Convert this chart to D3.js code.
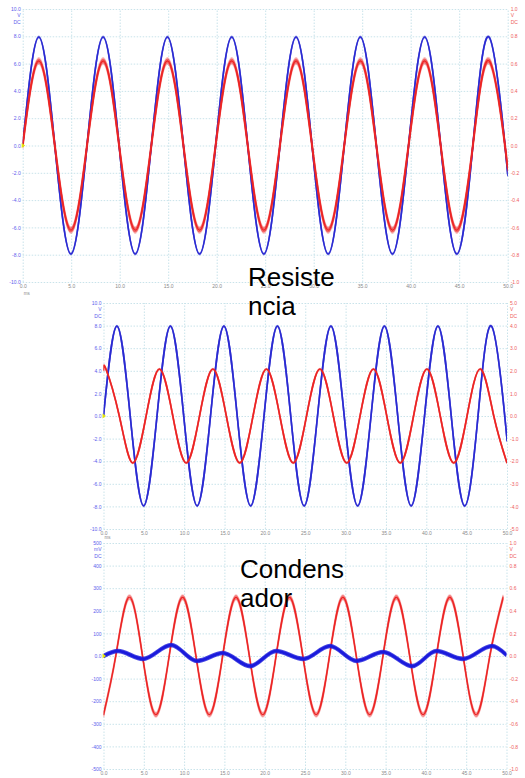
<!DOCTYPE html>
<html>
<head>
<meta charset="utf-8">
<script src="https://cdn.jsdelivr.net/npm/d3@7/dist/d3.min.js"></script>
<style>
  body { margin: 0; background: #fff; }
  svg { display: block; }
  .tick text { font-family: "Liberation Sans", Arial, sans-serif; }
  .caption { font-family: "Liberation Sans", Arial, sans-serif; font-size: 26px; fill: #000; }
</style>
</head>
<body>
<svg id="chart" width="525" height="778"></svg>
<script>
// time axis (ms), shared by the three captures
var timeTicks = [0, 5, 10, 15, 20, 25, 30, 35, 40, 45, 50]
var timeLabels = ['0.0', '5.0', '10.0', '15.0', '20.0', '25.0', '30.0', '35.0', '40.0', '45.0', '50.0']

// channel A / B tick sets
var volt10Ticks = [10, 8, 6, 4, 2, 0, -2, -4, -6, -8, -10]
var volt10Labels = ['10.0', '8.0', '6.0', '4.0', '2.0', '0.0', '-2.0', '-4.0', '-6.0', '-8.0', '-10.0']
var volt1Ticks = [1, 0.8, 0.6, 0.4, 0.2, 0, -0.2, -0.4, -0.6, -0.8, -1]
var volt1Labels = ['1.0', '0.8', '0.6', '0.4', '0.2', '0.0', '-0.2', '-0.4', '-0.6', '-0.8', '-1.0']
var volt5Ticks = [5, 4, 3, 2, 1, 0, -1, -2, -3, -4, -5]
var volt5Labels = ['5.0', '4.0', '3.0', '2.0', '1.0', '0.0', '-1.0', '-2.0', '-3.0', '-4.0', '-5.0']
var mvTicks = [500, 400, 300, 200, 100, 0, -100, -200, -300, -400, -500]
var mvLabels = ['500', '400', '300', '200', '100', '0.0', '-100', '-200', '-300', '-400', '-500']

// blue trace of the first two captures [ms, V] (peaks, troughs, zero crossings)
var sourceVolts = [
  [0, 0], [1.66, 7.95], [3.31, 0], [4.97, -7.95], [6.63, 0], [8.29, 7.95], [9.94, 0], [11.6, -7.95],
  [13.26, 0], [14.92, 7.95], [16.57, 0], [18.23, -7.95], [19.89, 0], [21.55, 7.95], [23.2, 0],
  [24.86, -7.95], [26.52, 0], [28.18, 7.95], [29.83, 0], [31.49, -7.95], [33.15, 0], [34.81, 7.95],
  [36.46, 0], [38.12, -7.95], [39.78, 0], [41.44, 7.95], [43.09, 0], [44.75, -7.95], [46.41, 0],
  [48.07, 7.95], [49.72, 0], [50, -2.1]
]

// red trace, first capture [ms, V]
var redA = [
  [0, 0], [1.66, 0.62], [3.31, 0], [4.97, -0.62], [6.63, 0], [8.29, 0.62], [9.94, 0], [11.6, -0.62],
  [13.26, 0], [14.92, 0.62], [16.57, 0], [18.23, -0.62], [19.89, 0], [21.55, 0.62], [23.2, 0],
  [24.86, -0.62], [26.52, 0], [28.18, 0.62], [29.83, 0], [31.49, -0.62], [33.15, 0], [34.81, 0.62],
  [36.46, 0], [38.12, -0.62], [39.78, 0], [41.44, 0.62], [43.09, 0], [44.75, -0.62], [46.41, 0],
  [48.07, 0.62], [49.72, 0], [50, -0.16]
]

// red trace, resistencia [ms, V]
var redB = [
  [0, 2.0], [0.3, 2.08], [1.96, 0], [3.62, -2.08], [5.28, 0], [6.93, 2.08], [8.59, 0], [10.25, -2.08],
  [11.9, 0], [13.56, 2.08], [15.22, 0], [16.88, -2.08], [18.53, 0], [20.19, 2.08], [21.85, 0],
  [23.51, -2.08], [25.16, 0], [26.82, 2.08], [28.48, 0], [30.14, -2.08], [31.79, 0], [33.45, 2.08],
  [35.1, 0], [36.77, -2.08], [38.42, 0], [40.08, 2.08], [41.73, 0], [43.4, -2.08], [45.05, 0],
  [46.71, 2.08], [48.36, 0], [50, -2.08]
]

// red trace, condensador [ms, V]
var redC = [
  [0, -0.52], [1.52, 0], [3.18, 0.52], [4.84, 0], [6.5, -0.52], [8.15, 0], [9.81, 0.52], [11.47, 0],
  [13.13, -0.52], [14.78, 0], [16.44, 0.52], [18.1, 0], [19.76, -0.52], [21.41, 0], [23.07, 0.52],
  [24.73, 0], [26.39, -0.52], [28.04, 0], [29.7, 0.52], [31.36, 0], [33.02, -0.52], [34.67, 0],
  [36.33, 0.52], [37.99, 0], [39.65, -0.52], [41.3, 0], [42.96, 0.52], [44.62, 0], [46.28, -0.52],
  [47.93, 0], [49.59, 0.52]
]

// blue trace, condensador [ms, mV]
var blueC = [
  [0, 0], [1.8, 22], [4.9, -13], [8.4, 49], [11.6, -22], [14.8, 13], [18.2, -45], [21.4, 22],
  [24.8, -13], [28.1, 44], [31.4, -22], [34.7, 18], [38.3, -45], [41.3, 22], [44.6, -13],
  [48.2, 44], [50, 4]
]

var blue = '#2a2ad2'
var red = '#ec2424'

var svg = d3.select('#chart')

function panel (cfg) {
  var g = svg.append('g')
  var w = cfg.right - cfg.left
  var h = cfg.bottom - cfg.top
  var n = cfg.leftTicks.length - 1

  var x = d3.scaleLinear().domain([0, 50]).range([cfg.left, cfg.right])
  var yL = d3.scaleLinear().domain([cfg.leftTicks[n], cfg.leftTicks[0]]).range([cfg.bottom, cfg.top])
  var yR = d3.scaleLinear().domain([cfg.rightTicks[n], cfg.rightTicks[0]]).range([cfg.bottom, cfg.top])

  // dotted grid
  g.append('g')
    .attr('class', 'grid')
    .attr('transform', 'translate(0,' + cfg.bottom + ')')
    .call(d3.axisBottom(x).tickValues(timeTicks).tickSize(-h).tickFormat(''))
  g.append('g')
    .attr('class', 'grid')
    .attr('transform', 'translate(' + cfg.left + ',0)')
    .call(d3.axisLeft(yL).tickValues(cfg.leftTicks).tickSize(-w).tickFormat(''))
  g.selectAll('.grid .domain').remove()
  g.selectAll('.grid line')
    .attr('stroke', '#c9e3ea')
    .attr('stroke-width', 1)
    .attr('stroke-dasharray', '1.5,1.5')

  // tick labels
  var left = g.append('g')
    .attr('transform', 'translate(' + cfg.left + ',0)')
    .call(d3.axisLeft(yL).tickValues(cfg.leftTicks).tickSize(0).tickPadding(2)
      .tickFormat(function (d, i) { return cfg.leftLabels[i] }))
  var right = g.append('g')
    .attr('transform', 'translate(' + cfg.right + ',0)')
    .call(d3.axisRight(yR).tickValues(cfg.rightTicks).tickSize(0).tickPadding(3)
      .tickFormat(function (d, i) { return cfg.rightLabels[i] }))
  var bottom = g.append('g')
    .attr('transform', 'translate(0,' + cfg.bottom + ')')
    .call(d3.axisBottom(x).tickValues(timeTicks).tickSize(0).tickPadding(2)
      .tickFormat(function (d, i) { return timeLabels[i] }))
  ;[left, right, bottom].forEach(function (a) {
    a.select('.domain').remove()
    a.selectAll('text').attr('font-size', 5)
  })
  left.selectAll('text').attr('fill', '#5c5cec')
  right.selectAll('text').attr('fill', '#ee5c5c')
  bottom.selectAll('text').attr('fill', '#8a8a8a')

  // unit labels under the top tick
  cfg.leftUnits.forEach(function (u, i) {
    g.append('text').attr('x', cfg.left - 2).attr('y', cfg.top + 8 + i * 6.5)
      .attr('text-anchor', 'end').attr('font-size', 5).attr('fill', '#5c5cec')
      .attr('font-family', '"Liberation Sans", Arial, sans-serif').text(u)
  })
  cfg.rightUnits.forEach(function (u, i) {
    g.append('text').attr('x', cfg.right + 3).attr('y', cfg.top + 8 + i * 6.5)
      .attr('font-size', 5).attr('fill', '#ee5c5c')
      .attr('font-family', '"Liberation Sans", Arial, sans-serif').text(u)
  })
  if (cfg.msY) {
    g.append('text').attr('x', cfg.left + 1).attr('y', cfg.bottom + cfg.msY)
      .attr('font-size', 4.5).attr('fill', '#8a8a8a')
      .attr('font-family', '"Liberation Sans", Arial, sans-serif').text('ms')
  }

  // clip traces to the plot area
  var id = 'clip' + cfg.name
  svg.append('defs').append('clipPath').attr('id', id)
    .append('rect').attr('x', cfg.left).attr('y', cfg.top).attr('width', w).attr('height', h)
  var plot = g.append('g').attr('clip-path', 'url(#' + id + ')')

  cfg.traces.forEach(function (t) {
    var y = t.axis === 'right' ? yR : yL
    var line = d3.line()
      .x(function (d) { return x(d[0]) })
      .y(function (d) { return y(d[1]) })
      .curve(t.curve || d3.curveNatural)
    // vertical noise band
    ;(t.band || []).forEach(function (b) {
      plot.append('path')
        .datum(t.data)
        .attr('transform', 'translate(0,' + b[0] + ')')
        .attr('d', line)
        .attr('fill', 'none')
        .attr('stroke', t.color)
        .attr('stroke-opacity', b[1])
        .attr('stroke-width', t.width)
    })
    plot.append('path')
      .datum(t.data)
      .attr('d', line)
      .attr('fill', 'none')
      .attr('stroke', t.color)
      .attr('stroke-width', t.width)
  })

  // yellow zero marker
  var y0 = yL(0)
  g.append('path')
    .attr('d', 'M' + (cfg.left - 1) + ',' + (y0 - 2.5) + 'L' + (cfg.left + 2.5) + ',' + y0 + 'L' + (cfg.left - 1) + ',' + (y0 + 2.5) + 'Z')
    .attr('fill', '#e4e40a')
}

panel({
  name: 'A', left: 22.7, right: 507.7, top: 9, bottom: 282,
  leftTicks: volt10Ticks, leftLabels: volt10Labels, leftUnits: ['V', 'DC'],
  rightTicks: volt1Ticks, rightLabels: volt1Labels, rightUnits: ['V', 'DC'],
  msY: 13,
  traces: [
    { data: sourceVolts, axis: 'left', color: blue, width: 1.6, band: [[0.6, 0.5], [-0.6, 0.5]] },
    { data: redA, axis: 'right', color: red, width: 1.6, band: [[3, 0.3], [-3, 0.3], [1.6, 0.7], [-1.6, 0.7]] }
  ]
})

panel({
  name: 'B', left: 103.5, right: 507, top: 303, bottom: 529,
  leftTicks: volt10Ticks, leftLabels: volt10Labels, leftUnits: ['V', 'DC'],
  rightTicks: volt5Ticks, rightLabels: volt5Labels, rightUnits: ['V', 'DC'],
  msY: 10,
  traces: [
    { data: sourceVolts, axis: 'left', color: blue, width: 1.6, band: [[0.5, 0.5], [-0.5, 0.5]] },
    { data: redB, axis: 'right', color: red, width: 1.6, band: [[0.5, 0.5], [-0.5, 0.5]] }
  ]
})

panel({
  name: 'C', left: 103.5, right: 506.5, top: 543, bottom: 769,
  leftTicks: mvTicks, leftLabels: mvLabels, leftUnits: ['mV', 'DC'],
  rightTicks: volt1Ticks, rightLabels: volt1Labels, rightUnits: ['V', 'DC'],
  msY: 0,
  traces: [
    { data: redC, axis: 'right', color: red, width: 1.3, band: [[1.5, 0.5], [-1.5, 0.5], [2.5, 0.2], [-2.5, 0.2]] },
    { data: blueC, axis: 'left', color: '#1a1adc', width: 2.6, curve: d3.curveMonotoneX, band: [[1, 0.8], [-1, 0.8]] }
  ]
})

// captions
var captions = [
  { lines: ['Resiste', 'ncia'], x: 248, y: 286 },
  { lines: ['Condens', 'ador'], x: 240, y: 578 }
]
captions.forEach(function (c) {
  var t = svg.append('text').attr('class', 'caption').attr('x', c.x).attr('y', c.y)
  c.lines.forEach(function (l, i) {
    t.append('tspan').attr('x', c.x).attr('dy', i ? 28.5 : 0).text(l)
  })
})
</script>
</body>
</html>
